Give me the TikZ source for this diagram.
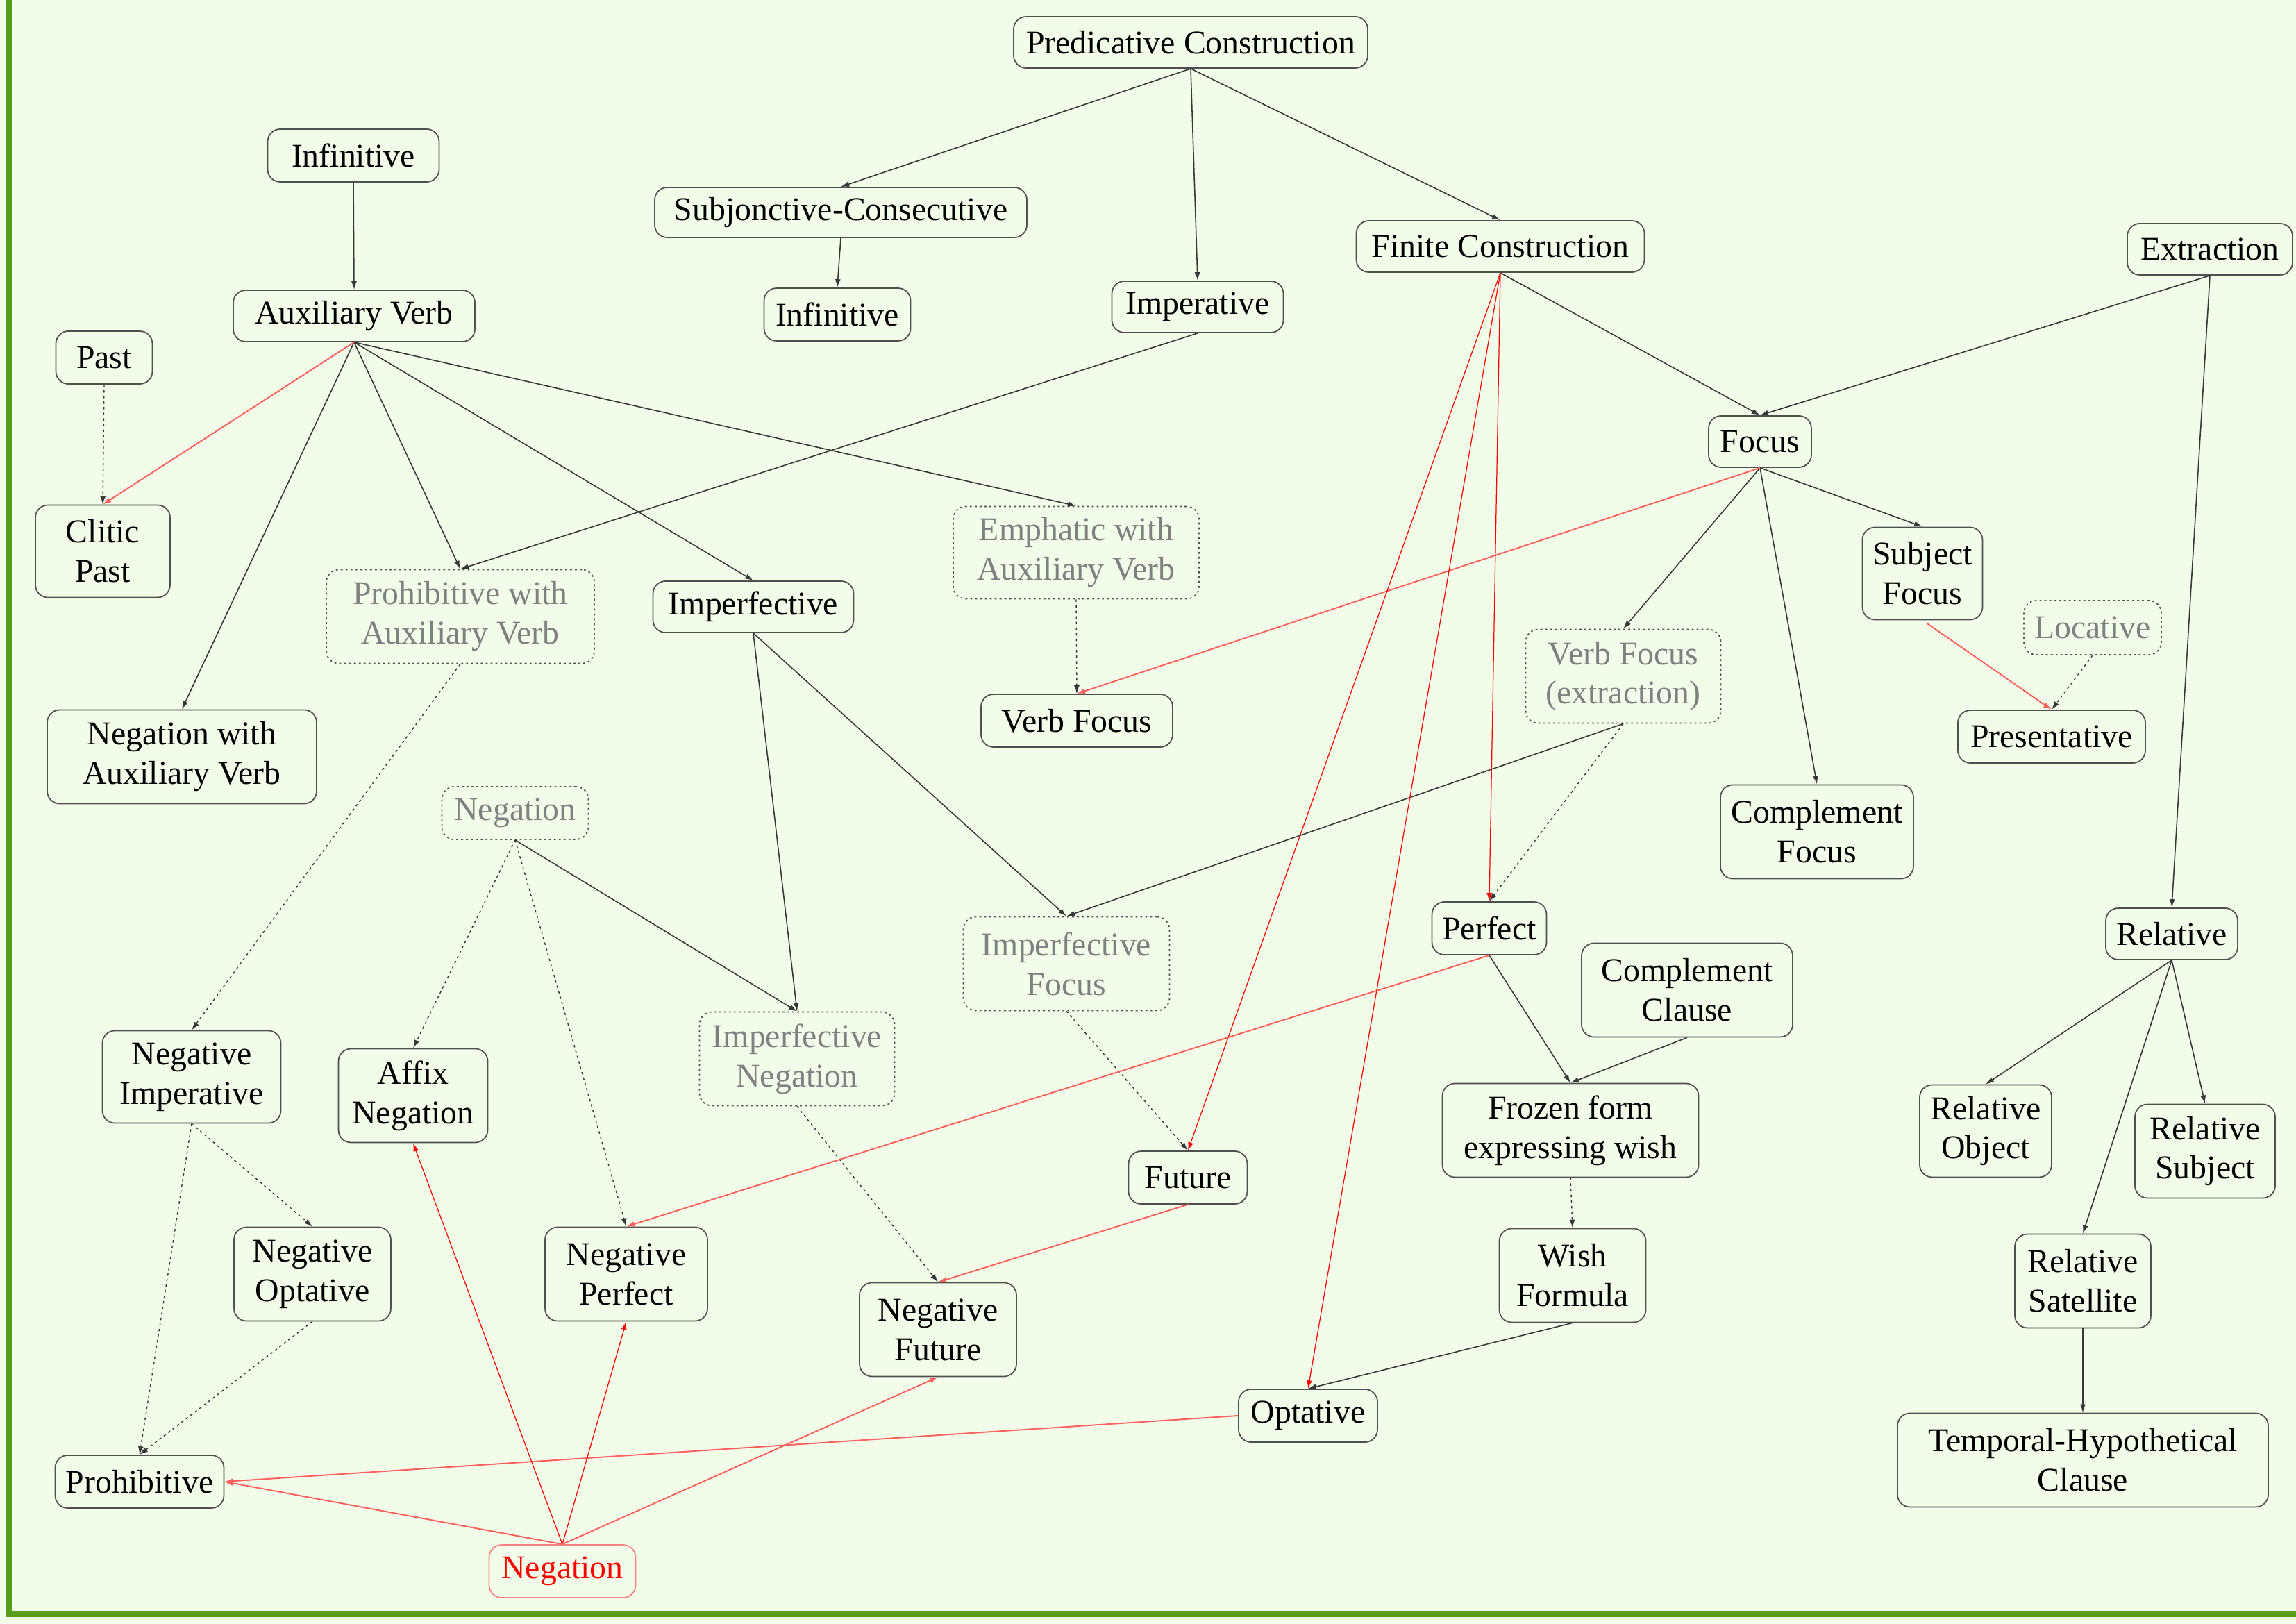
\documentclass[tikz,border=0pt]{standalone}
\usepackage{fontspec}
\setmainfont{Liberation Serif}
\usetikzlibrary{arrows.meta}
\definecolor{bg}{RGB}{241,253,233}
\definecolor{framegreen}{RGB}{88,158,30}
\definecolor{nodeline}{RGB}{80,80,80}
\definecolor{graytext}{RGB}{128,128,128}
\definecolor{edgeblack}{RGB}{55,55,55}
\definecolor{salmon}{RGB}{255,95,95}
\definecolor{rednodeline}{RGB}{255,130,130}
\tikzset{
  box/.style={draw=nodeline, line width=0.5pt, rounded corners=0.18cm, align=center,
    inner sep=0pt, font=\fontsize{13.6}{16.2}\selectfont, text=black},
  ghost/.style={box, dash pattern=on 0.8pt off 1.2pt, text=graytext},
  rednode/.style={box, draw=rednodeline, text=red},
  tip/.style={-{Latex[length=0.12cm,width=0.08cm]}},
  eb/.style={tip, color=edgeblack, line width=0.45pt},
  ed/.style={tip, color=edgeblack, line width=0.4pt, dash pattern=on 1pt off 1.3pt},
  er/.style={tip, color=red, line width=0.35pt},
  es/.style={tip, color=salmon, line width=0.55pt}
}
\newcommand{\bx}[7]{\node[#6, minimum width=#4cm, minimum height=#5cm] (#1) at (#2,#3) {#7};}
\begin{document}
\begin{tikzpicture}
\fill[bg] (0,0) rectangle (33.07,-23.39);
\useasboundingbox (0,0) rectangle (33.07,-23.39);
\draw[framegreen, line width=0.09cm] (0.125,0) -- (0.125,-23.24) -- (33.07,-23.24);

\bx{pc}{17.15}{-0.61}{5.10}{0.74}{box}{Predicative Construction}
\bx{infL}{5.09}{-2.24}{2.47}{0.76}{box}{Infinitive}
\bx{sc}{12.11}{-3.06}{5.36}{0.72}{box}{Subjonctive-Consecutive}
\bx{fc}{21.61}{-3.55}{4.15}{0.74}{box}{Finite Construction}
\bx{ext}{31.83}{-3.59}{2.38}{0.74}{box}{Extraction}
\bx{aux}{5.10}{-4.55}{3.48}{0.74}{box}{Auxiliary Verb}
\bx{infM}{12.06}{-4.53}{2.11}{0.76}{box}{Infinitive}
\bx{imp}{17.25}{-4.42}{2.47}{0.74}{box}{Imperative}
\bx{past}{1.50}{-5.15}{1.39}{0.76}{box}{Past}
\bx{focus}{25.35}{-6.36}{1.48}{0.74}{box}{Focus}
\bx{clitic}{1.48}{-7.94}{1.94}{1.33}{box}{Clitic\\Past}
\bx{emph}{15.50}{-7.96}{3.54}{1.33}{ghost}{Emphatic with\\Auxiliary Verb}
\bx{sf}{27.69}{-8.26}{1.73}{1.33}{box}{Subject\\Focus}
\bx{pav}{6.63}{-8.88}{3.86}{1.35}{ghost}{Prohibitive with\\Auxiliary Verb}
\bx{impf}{10.85}{-8.74}{2.89}{0.74}{box}{Imperfective}
\bx{loc}{30.14}{-9.04}{1.98}{0.78}{ghost}{Locative}
\bx{vfx}{23.38}{-9.74}{2.81}{1.35}{ghost}{Verb Focus\\(extraction)}
\bx{vf}{15.51}{-10.38}{2.76}{0.76}{box}{Verb Focus}
\bx{pres}{29.55}{-10.61}{2.70}{0.76}{box}{Presentative}
\bx{nav}{2.62}{-10.90}{3.88}{1.35}{box}{Negation with\\Auxiliary Verb}
\bx{cf}{26.17}{-11.98}{2.78}{1.35}{box}{Complement\\Focus}
\bx{neg}{7.42}{-11.71}{2.11}{0.76}{ghost}{Negation}
\bx{perf}{21.45}{-13.37}{1.65}{0.76}{box}{Perfect}
\bx{impfoc}{15.36}{-13.88}{2.97}{1.35}{ghost}{Imperfective\\Focus}
\bx{rel}{31.28}{-13.45}{1.90}{0.74}{box}{Relative}
\bx{cc}{24.30}{-14.26}{3.04}{1.35}{box}{Complement\\Clause}
\bx{impneg}{11.48}{-15.25}{2.81}{1.35}{ghost}{Imperfective\\Negation}
\bx{negimp}{2.76}{-15.51}{2.57}{1.33}{box}{Negative\\Imperative}
\bx{affix}{5.95}{-15.78}{2.15}{1.35}{box}{Affix\\Negation}
\bx{frozen}{22.62}{-16.28}{3.69}{1.35}{box}{Frozen form\\expressing wish}
\bx{relobj}{28.60}{-16.29}{1.90}{1.33}{box}{Relative\\Object}
\bx{relsubj}{31.76}{-16.58}{2.02}{1.35}{box}{Relative\\Subject}
\bx{fut}{17.11}{-16.96}{1.71}{0.76}{box}{Future}
\bx{negopt}{4.50}{-18.35}{2.26}{1.35}{box}{Negative\\Optative}
\bx{negperf}{9.02}{-18.35}{2.34}{1.35}{box}{Negative\\Perfect}
\bx{wish}{22.65}{-18.37}{2.11}{1.35}{box}{Wish\\Formula}
\bx{relsat}{30.00}{-18.45}{1.96}{1.35}{box}{Relative\\Satellite}
\bx{negfut}{13.51}{-19.15}{2.26}{1.35}{box}{Negative\\Future}
\bx{opt}{18.84}{-20.39}{2.00}{0.76}{box}{Optative}
\bx{th}{30.00}{-21.03}{5.34}{1.35}{box}{Temporal-Hypothetical\\Clause}
\bx{prohib}{2.01}{-21.34}{2.43}{0.76}{box}{Prohibitive}
\bx{negred}{8.10}{-22.63}{2.11}{0.76}{rednode}{Negation}

% black solid
\draw[eb] (pc.south) -- (sc.north);
\draw[eb] (pc.south) -- (imp.north);
\draw[eb] (pc.south) -- (fc.north);
\draw[eb] (infL.south) -- (aux.north);
\draw[eb] (sc.south) -- (infM.north);
\draw[eb] (aux.south) -- (nav.north);
\draw[eb] (aux.south) -- (pav.north);
\draw[eb] (aux.south) -- (impf.north);
\draw[eb] (aux.south) -- (emph.north);
\draw[eb] (imp.south) -- (pav.north);
\draw[eb] (fc.south) -- (focus.north);
\draw[eb] (ext.south) -- (focus.north);
\draw[eb] (ext.south) -- (rel.north);
\draw[eb] (focus.south) -- (sf.north);
\draw[eb] (focus.south) -- (vfx.north);
\draw[eb] (focus.south) -- (cf.north);
\draw[eb] (impf.south) -- (impfoc.north);
\draw[eb] (impf.south) -- (impneg.north);
\draw[eb] (vfx.south) -- (impfoc.north);
\draw[eb] (neg.south) -- (impneg.north);
\draw[eb] (perf.south) -- (frozen.north);
\draw[eb] (cc.south) -- (frozen.north);
\draw[eb] (wish.south) -- (opt.north);
\draw[eb] (rel.south) -- (relobj.north);
\draw[eb] (rel.south) -- (relsubj.north);
\draw[eb] (rel.south) -- (relsat.north);
\draw[eb] (relsat.south) -- (th.north);

% black dotted
\draw[ed] (past.south) -- (clitic.north);
\draw[ed] (emph.south) -- (vf.north);
\draw[ed] (pav.south) -- (negimp.north);
\draw[ed] (neg.south) -- (affix.north);
\draw[ed] (neg.south) -- (negperf.north);
\draw[ed] (vfx.south) -- (perf.north);
\draw[ed] (impfoc.south) -- (fut.north);
\draw[ed] (impneg.south) -- (negfut.north);
\draw[ed] (loc.south) -- (pres.north);
\draw[ed] (frozen.south) -- (wish.north);
\draw[ed] (negimp.south) -- (negopt.north);
\draw[ed] (negimp.south) -- (prohib.north);
\draw[ed] (negopt.south) -- (prohib.north);

% red
\draw[es] (aux.south) -- (clitic.north);
\draw[es] (focus.south) -- (vf.north);
\draw[es, shorten <=0.07cm] (sf.south) -- (pres.north);
\draw[er] (fc.south) -- (perf.north);
\draw[er] (fc.south) -- (fut.north);
\draw[er] (fc.south) -- (opt.north);
\draw[es] (perf.south) -- (negperf.north);
\draw[es] (fut.south) -- (negfut.north);
\draw[es] (opt.west) -- (prohib.east);
\draw[es] (negred.north) -- (prohib.east);
\draw[er] (negred.north) -- (affix.south);
\draw[er] (negred.north) -- (negperf.south);
\draw[es] (negred.north) -- (negfut.south);
\end{tikzpicture}
\end{document}
